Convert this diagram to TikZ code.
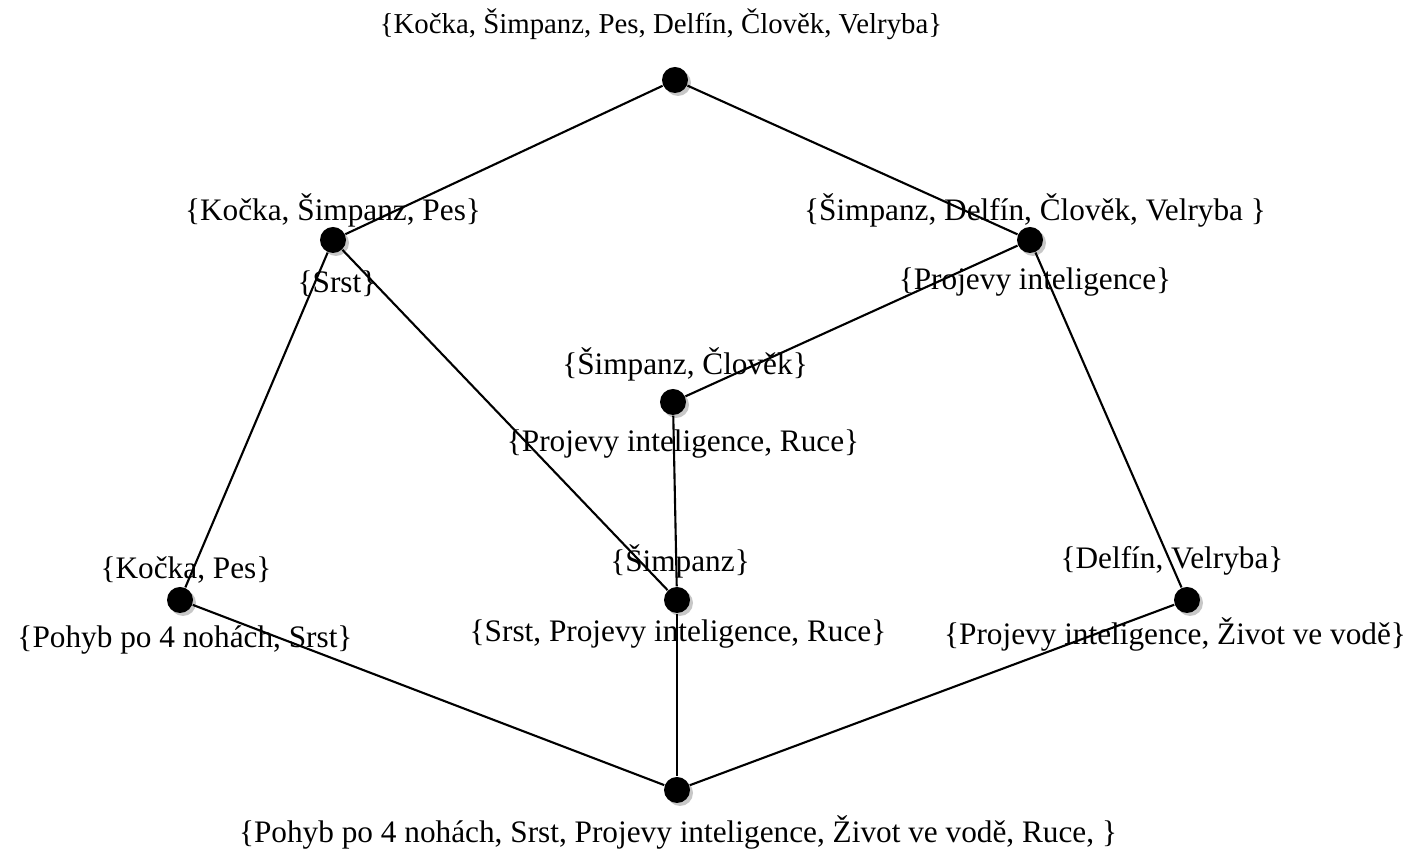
\documentclass[tikz,border=0pt]{standalone}
\usepackage{fontspec}
\setmainfont{Liberation Serif}
\usetikzlibrary{shadows}
\begin{document}
\begin{tikzpicture}[
  vertex/.style={circle, fill=black, minimum size=0.26cm, inner sep=0pt,
    drop shadow={shadow xshift=0.03cm, shadow yshift=-0.03cm, fill=gray!55, opacity=0.8}},
  lbl/.style={inner sep=0pt, font=\fontsize{8.9}{10.5}\selectfont},
  edge/.style={line width=0.6pt}
]
\useasboundingbox (0,0) rectangle (14.25,8.52);

% lattice vertices
\node[vertex] (top) at (6.75,7.72) {};
\node[vertex] (a)   at (3.33,6.12) {};
\node[vertex] (b)   at (10.30,6.12) {};
\node[vertex] (c)   at (6.73,4.50) {};
\node[vertex] (d)   at (1.80,2.52) {};
\node[vertex] (e)   at (6.77,2.52) {};
\node[vertex] (f)   at (11.87,2.52) {};
\node[vertex] (bot) at (6.77,0.62) {};

% edges
\draw[edge] (top) -- (a);
\draw[edge] (top) -- (b);
\draw[edge] (a) -- (d);
\draw[edge] (a) -- (e);
\draw[edge] (b) -- (c);
\draw[edge] (b) -- (f);
\draw[edge] (c) -- (e);
\draw[edge] (d) -- (bot);
\draw[edge] (e) -- (bot);
\draw[edge] (f) -- (bot);

% object sets
\node[lbl, font=\fontsize{8.2}{10}\selectfont] (topO) at (6.61,8.28) {\{Kočka, Šimpanz, Pes, Delfín, Člověk, Velryba\}};
\node[lbl] (aO) at (3.33,6.42) {\{Kočka, Šimpanz, Pes\}};
\node[lbl] (bO) at (10.35,6.42) {\{Šimpanz, Delfín, Člověk, Velryba \}};
\node[lbl] (cO) at (6.85,4.88) {\{Šimpanz, Člověk\}};
\node[lbl] (dO) at (1.86,2.82) {\{Kočka, Pes\}};
\node[lbl] (eO) at (6.80,2.91) {\{Šimpanz\}};
\node[lbl] (fO) at (11.72,2.91) {\{Delfín, Velryba\}};

% attribute sets
\node[lbl] (aA) at (3.37,5.68) {\{Srst\}};
\node[lbl] (bA) at (10.35,5.70) {\{Projevy inteligence\}};
\node[lbl] (cA) at (6.83,4.08) {\{Projevy inteligence, Ruce\}};
\node[lbl] (dA) at (1.85,2.12) {\{Pohyb po 4 nohách, Srst\}};
\node[lbl] (eA) at (6.78,2.18) {\{Srst, Projevy inteligence, Ruce\}};
\node[lbl] (fA) at (11.75,2.18) {\{Projevy inteligence, Život ve vodě\}};
\node[lbl] (botA) at (6.78,0.20) {\{Pohyb po 4 nohách, Srst, Projevy inteligence, Život ve vodě, Ruce, \}};
\end{tikzpicture}
\end{document}
